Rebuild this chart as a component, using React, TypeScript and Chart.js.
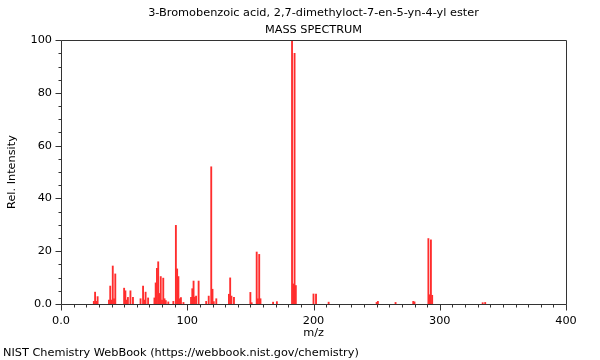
import React, { useEffect, useRef } from "react";
import { Chart, registerables } from "chart.js";

Chart.register(...registerables);

const titleText = "3-Bromobenzoic acid, 2,7-dimethyloct-7-en-5-yn-4-yl ester";
const subtitleText = "MASS SPECTRUM";
const footerText = "NIST Chemistry WebBook (https://webbook.nist.gov/chemistry)";
const xAxisTitle = "m/z";
const yAxisTitle = "Rel. Intensity";

const mzValues = [
  26, 27, 28, 29, 38, 39, 40, 41, 42, 43,
  50, 51, 52, 53, 55, 57, 63, 65, 66, 67,
  69, 74, 75, 76, 77, 78, 79, 80, 81, 82,
  83, 85, 89, 91, 92, 93, 94, 95, 97, 103,
  104, 105, 106, 107, 109, 115, 117, 119, 120, 121,
  123, 133, 134, 135, 137, 150, 151, 155, 156, 157,
  158, 168, 171, 183, 184, 185, 186, 200, 202, 212,
  250, 251, 265, 279, 280, 291, 292, 293, 294, 334,
  336,
];
const intensities = [
  1, 4.5, 1, 2.8, 1.5, 6.8, 1.5, 14.4, 2, 11.4,
  6, 5, 1.5, 2.5, 5, 2.5, 2, 6.8, 1.5, 4.5,
  2.3, 2.3, 8, 13.5, 16, 4, 10.4, 1.5, 9.8, 2,
  1.3, 0.8, 1, 29.8, 13.3, 10.4, 2, 2.4, 0.6, 2.5,
  5.8, 8.7, 2.6, 3, 8.7, 1, 3, 52, 5.6, 0.9,
  2, 3.7, 9.9, 3, 2.5, 4.4, 0.5, 19.7, 2, 18.8,
  2, 0.7, 0.9, 100, 7.6, 95, 7, 3.8, 3.8, 0.7,
  0.6, 1, 0.6, 1, 0.8, 24.8, 3.5, 24.3, 3.3, 0.5,
  0.6,
];
const xMin = 0;
const xMax = 400;
const yMin = 0;
const yMax = 100;
const xMajorStep = 100;
const xMinorStep = 10;
const yMajorStep = 20;
const yMinorStep = 5;

const FONT = '"DejaVu Sans", sans-serif';
const FS = 11.3;

const framePlugin = {
  id: "frameTicks",
  afterDraw(chart: any) {
    const { ctx, chartArea } = chart;
    const { left, right, top, bottom } = chartArea;
    const xs = chart.scales.x;
    const ys = chart.scales.y;
    ctx.save();
    ctx.strokeStyle = "#333333";
    ctx.lineWidth = 1;
    const L = Math.round(left) + 0.5;
    const R = Math.round(right) + 0.5;
    const T = Math.round(top) + 0.5;
    const B = Math.round(bottom) + 0.5;
    ctx.beginPath();
    ctx.rect(L, T, R - L, B - T);
    ctx.stroke();
    ctx.beginPath();
    for (let v = xMin; v <= xMax; v += xMinorStep) {
      const px = Math.round(xs.getPixelForValue(v)) + 0.5;
      const len = v % xMajorStep === 0 ? 6 : 3;
      ctx.moveTo(px, B);
      ctx.lineTo(px, B + len);
    }
    for (let v = yMin; v <= yMax; v += yMinorStep) {
      const py = Math.round(ys.getPixelForValue(v)) + 0.5;
      const len = v % yMajorStep === 0 ? 6 : 3;
      ctx.moveTo(L, py);
      ctx.lineTo(L - len, py);
    }
    ctx.stroke();
    ctx.fillStyle = "#000000";
    ctx.font = FS + "px " + FONT;
    ctx.textBaseline = "middle";
    ctx.textAlign = "left";
    ctx.fillText(footerText, 3, 353);
    ctx.restore();
  },
};

export default function App() {
  const ref = useRef<HTMLCanvasElement | null>(null);
  useEffect(() => {
    if (!ref.current) return;
    const points = mzValues.map((m, i) => ({ x: m, y: intensities[i] }));
    const chart = new Chart(ref.current, {
      type: "bar",
      data: {
        datasets: [
          {
            data: points,
            backgroundColor: "rgb(255,45,45)",
            borderWidth: 0,
            barThickness: 1.2,
            grouped: false,
          } as any,
        ],
      },
      options: {
        animation: false,
        responsive: false,
        maintainAspectRatio: false,
        layout: { padding: { left: 0, right: 34, top: 0, bottom: 0 } },
        plugins: {
          legend: { display: false },
          tooltip: { enabled: false },
          title: {
            display: true,
            text: titleText,
            color: "#000",
            fullSize: false,
            font: { family: FONT, size: FS, weight: "normal" },
            padding: { top: 6, bottom: 4 },
          },
          subtitle: {
            display: true,
            text: subtitleText,
            color: "#000",
            fullSize: false,
            font: { family: FONT, size: FS, weight: "normal" },
            padding: { top: 0, bottom: 3 },
          },
        },
        scales: {
          x: {
            type: "linear",
            min: xMin,
            max: xMax,
            offset: false,
            grid: { display: false, drawTicks: false },
            border: { display: false },
            ticks: {
              stepSize: xMajorStep,
              padding: 10,
              color: "#000",
              font: { family: FONT, size: FS },
              maxRotation: 0,
              callback: (v: any) => (Number(v) === 0 ? "0.0" : String(v)),
            },
            title: {
              display: true,
              text: xAxisTitle,
              color: "#000",
              font: { family: FONT, size: FS },
              padding: { top: 0, bottom: 20 },
            },
            afterFit: (s: any) => {
              s.height = 56;
            },
          },
          y: {
            min: yMin,
            max: yMax,
            grid: { display: false, drawTicks: false },
            border: { display: false },
            ticks: {
              stepSize: yMajorStep,
              padding: 9,
              color: "#000",
              font: { family: FONT, size: FS },
              callback: (v: any) => (Number(v) === 0 ? "0.0" : String(v)),
            },
            title: {
              display: true,
              text: yAxisTitle,
              color: "#000",
              font: { family: FONT, size: FS },
              padding: { top: 5, bottom: 0 },
            },
            afterFit: (s: any) => {
              s.width = 61;
            },
          },
        },
      },
      plugins: [framePlugin],
    });
    return () => chart.destroy();
  }, []);
  return (
    <div style={{ position: "fixed", left: 0, top: 0, width: 600, height: 360, background: "#fff" }}>
      <canvas ref={ref} width={600} height={360} style={{ width: 600, height: 360, display: "block" }} />
    </div>
  );
}
